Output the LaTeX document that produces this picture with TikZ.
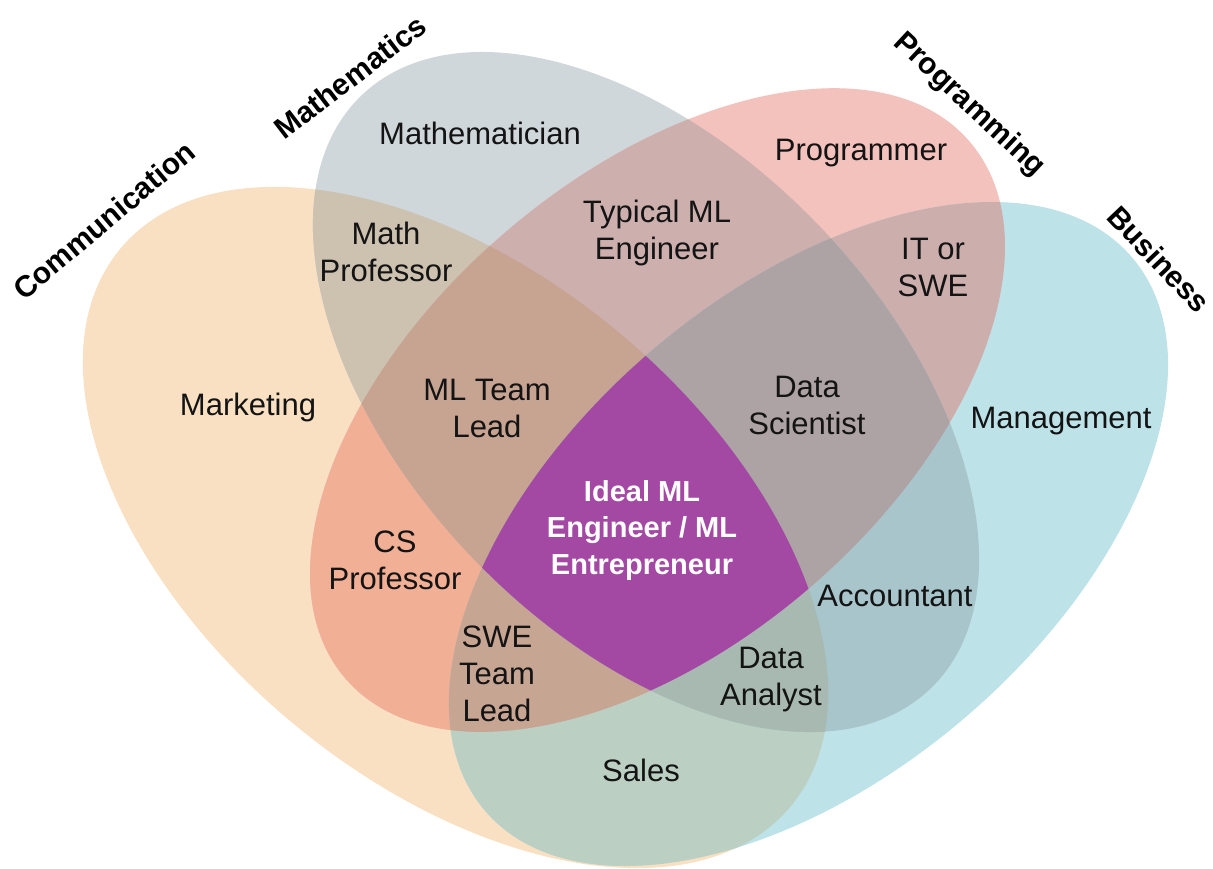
\documentclass[tikz,border=0pt]{standalone}
\usepackage{fontspec}
\setmainfont{Liberation Sans}
\usepackage{tikz}
\usetikzlibrary{positioning}
% one colour for each region
\definecolor{cc}{RGB}{249,224,194}
\definecolor{mc}{RGB}{208,215,218}
\definecolor{pc}{RGB}{244,194,188}
\definecolor{bc}{RGB}{189,226,232}
\definecolor{cmc}{RGB}{205,193,176}
\definecolor{cpc}{RGB}{241,175,149}
\definecolor{cbc}{RGB}{187,207,195}
\definecolor{mpc}{RGB}{205,176,174}
\definecolor{pbc}{RGB}{204,175,173}
\definecolor{mbc}{RGB}{168,197,204}
\definecolor{cmpc}{RGB}{199,163,146}
\definecolor{cpbc}{RGB}{199,165,147}
\definecolor{mpbc}{RGB}{173,163,164}
\definecolor{cmbc}{RGB}{167,185,176}
\definecolor{idealc}{RGB}{163,73,164}
\definecolor{txt}{RGB}{20,20,20}
\tikzset{
  commpos/.style={shift={(455.5,527.5)},rotate=-39.75},
  mathpos/.style={shift={(646,392)},rotate=-46.2},
  progpos/.style={shift={(657.5,410)},rotate=40.7},
  buspos/.style={shift={(808.5,534)},rotate=40.55},
  setlbl/.style={font=\fontsize{30}{36}\selectfont\bfseries,text=black},
  role/.style={align=center,font=\fontsize{31}{37}\selectfont,text=txt},
  ideal/.style={align=center,font=\fontsize{29}{36.5}\selectfont\bfseries,text=white},
}
% #1 = \fill or \clip, #2 = options
\newcommand\setC[2]{#1[#2,commpos] (0,0) ellipse [x radius=436pt, y radius=254.5pt];}
\newcommand\setM[2]{#1[#2,mathpos] (0,0) ellipse [x radius=411pt, y radius=240pt];}
\newcommand\setP[2]{#1[#2,progpos] (0,0) ellipse [x radius=411.7pt, y radius=234pt];}
\newcommand\setB[2]{#1[#2,buspos] (0,0) ellipse [x radius=425.7pt, y radius=241.3pt];}

\begin{document}
\begin{tikzpicture}[x=1pt,y=-1pt]
\useasboundingbox (0,0) rectangle (1213,868);

% single sets
\setC\fill{cc}
\setM\fill{mc}
\setP\fill{pc}
\setB\fill{bc}
% pairs
\begin{scope}\setC\clip{}\setM\fill{cmc}\end{scope}
\begin{scope}\setC\clip{}\setP\fill{cpc}\end{scope}
\begin{scope}\setC\clip{}\setB\fill{cbc}\end{scope}
\begin{scope}\setM\clip{}\setP\fill{mpc}\end{scope}
\begin{scope}\setP\clip{}\setB\fill{pbc}\end{scope}
\begin{scope}\setM\clip{}\setB\fill{mbc}\end{scope}
% triples
\begin{scope}\setC\clip{}\setM\clip{}\setP\fill{cmpc}\end{scope}
\begin{scope}\setC\clip{}\setP\clip{}\setB\fill{cpbc}\end{scope}
\begin{scope}\setM\clip{}\setP\clip{}\setB\fill{mpbc}\end{scope}
\begin{scope}\setC\clip{}\setM\clip{}\setB\fill{cmbc}\end{scope}
% all four
\begin{scope}\setC\clip{}\setM\clip{}\setB\clip{}\setP\fill{idealc}\end{scope}

  \node[setlbl,rotate=40] (commlbl) at (104,220) {Communication};
  \node[setlbl,rotate=37.5] (mathlbl) at (350,77) {Mathematics};
  \node[setlbl,rotate=-43] (proglbl) at (969,105) {Programming};
  \node[setlbl,rotate=-46.5] (buslbl) at (1159,259) {Business};

  \node[role] (mathn) at (480,133) {Mathematician};
  \node[role] (progn) at (861,153) {Programmer};
  \node[role] (mathprof) at (386,252) {Math\\Professor};
  \node[role] (typical) at (657,233) {Typical ML\\Engineer};
  \node[role] (itswe) at (933,267) {IT or\\SWE};
  \node[role] (mkt) at (248,407) {Marketing};
  \node[role] (mllead) at (487,408) {ML Team\\Lead};
  \node[role] (datasci) at (807,405) {Data\\Scientist};
  \node[role] (mgmt) at (1061,421) {Management};
  \node[ideal] (idealml) at (642,530) {Ideal ML\\Engineer / ML\\Entrepreneur};
  \node[role] (csprof) at (395,560) {CS\\Professor};
  \node[role] (acct) at (895,596) {Accountant};
  \node[role] (swelead) at (497,674) {SWE\\Team\\Lead};
  \node[role] (analyst) at (771,680) {Data\\Analyst};
  \node[role] (sales) at (641,770) {Sales};
\end{tikzpicture}
\end{document}
